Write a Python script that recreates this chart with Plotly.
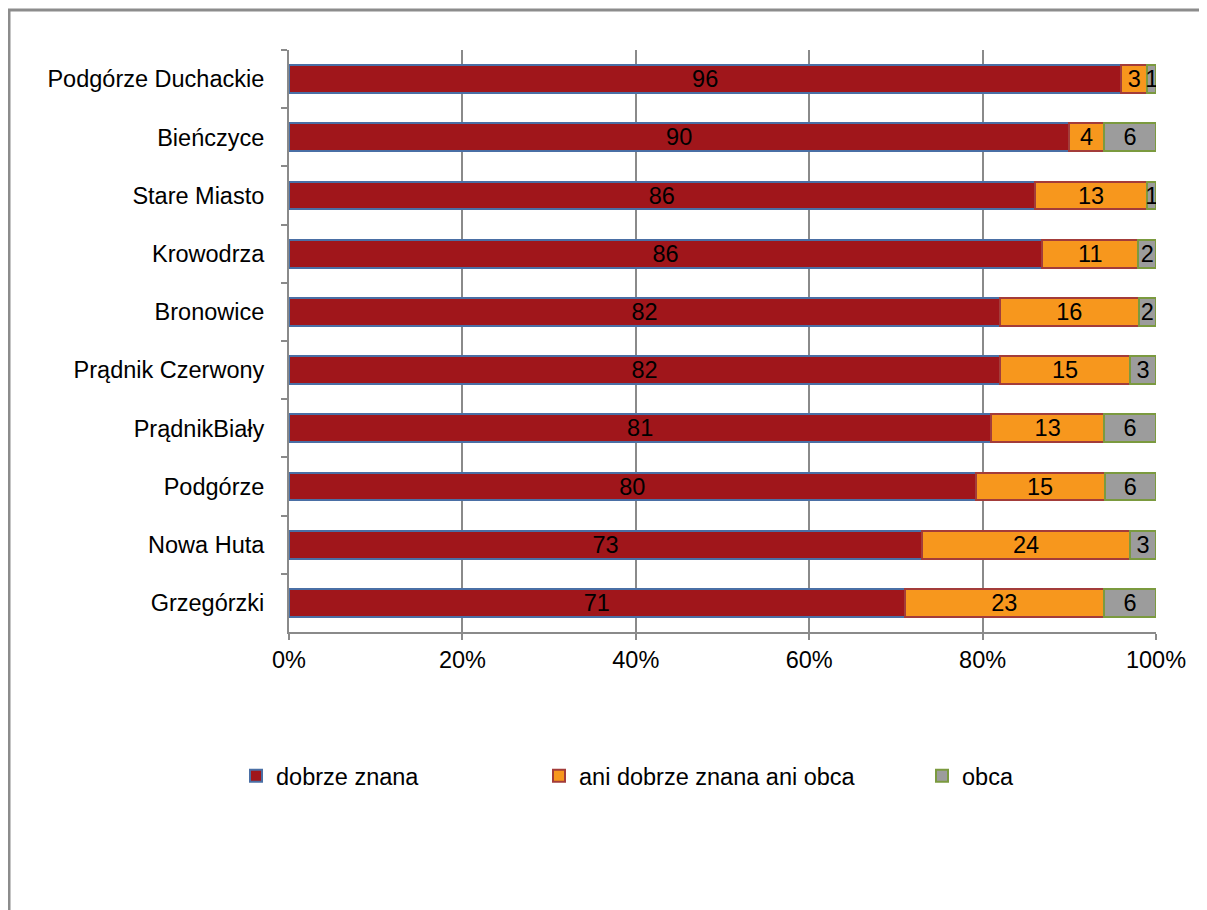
import plotly.graph_objects as go

districts = ["Podgórze Duchackie", "Bieńczyce", "Stare Miasto", "Krowodrza", "Bronowice",
             "Prądnik Czerwony", "PrądnikBiały", "Podgórze", "Nowa Huta", "Grzegórzki"]
dobrze_znana = [96, 90, 86, 86, 82, 82, 81, 80, 73, 71]
ani_ani = [3, 4, 13, 11, 16, 15, 13, 15, 24, 23]
obca = [1, 6, 1, 2, 2, 3, 6, 6, 3, 6]
x_ticks = [0, 20, 40, 60, 80, 100]
x_tick_labels = ["0%", "20%", "40%", "60%", "80%", "100%"]

FONT = "Liberation Sans, Arial, sans-serif"
FS = 23.5

series = [
    ("dobrze znana", dobrze_znana, "#A0161B", "#4A6FA5", "legend"),
    ("ani dobrze znana ani obca", ani_ani, "#F7971D", "#A33C3A", "legend2"),
    ("obca", obca, "#9C9C9C", "#7B9A3F", "legend3"),
]

fig = go.Figure()
for name, vals, fill, line, lg in series:
    fig.add_trace(go.Bar(
        y=districts, x=vals, name=name, orientation="h",
        marker=dict(color=fill, line=dict(color=line, width=2)),
        text=[str(v) for v in vals], textposition="inside",
        insidetextanchor="middle", textangle=0, constraintext="none",
        textfont=dict(color="black", size=FS, family=FONT),
        legend=lg,
    ))

# page offset (body margin) is 8px
OFF = 8
L, R, T, B = 289, 1156, 50, 632
W, H = R - L, B - T
def px_x(px):
    return (px - L) / W
def px_y(py):
    return (B - py) / H

leg_common = dict(orientation="h", yanchor="middle", xanchor="left",
                  font=dict(family=FONT, size=FS, color="black"),
                  bgcolor="rgba(0,0,0,0)", itemwidth=30, y=px_y(776))

fig.update_layout(
    barmode="stack", barnorm="percent", bargap=0.52,
    width=1207 - OFF, height=910 - OFF,
    margin=dict(l=L - OFF, r=1207 - R, t=T - OFF, b=910 - B, autoexpand=False),
    paper_bgcolor="white", plot_bgcolor="white",
    font=dict(family=FONT, size=FS, color="black"),
    uniformtext=dict(minsize=FS, mode="show"),
    showlegend=True,
    legend=dict(leg_common, x=px_x(236)),
    legend2=dict(leg_common, x=px_x(539)),
    legend3=dict(leg_common, x=px_x(922)),
    xaxis=dict(range=[0, 100], tickmode="array", tickvals=x_ticks, ticktext=x_tick_labels,
               showgrid=True, gridcolor="#8A8A8A", gridwidth=1.5,
               showline=True, linecolor="#8A8A8A", linewidth=2,
               ticks="outside", ticklen=6, tickcolor="#8A8A8A", tickwidth=2,
               zeroline=False, fixedrange=True,
               tickfont=dict(family=FONT, size=FS, color="black")),
    yaxis=dict(autorange="reversed", showline=True, linecolor="#8A8A8A", linewidth=2,
               ticks="outside", ticklen=6, tickcolor="#8A8A8A", tickwidth=2,
               tickson="boundaries", showgrid=False, ticklabelstandoff=18,
               tickfont=dict(family=FONT, size=FS, color="black")),
    shapes=[dict(type="rect", xref="paper", yref="paper",
                 x0=px_x(9), x1=px_x(1230), y0=px_y(10), y1=px_y(940),
                 line=dict(color="#8C8C8C", width=3), fillcolor="rgba(0,0,0,0)",
                 layer="below")],
)

fig.write_html("out.html")
